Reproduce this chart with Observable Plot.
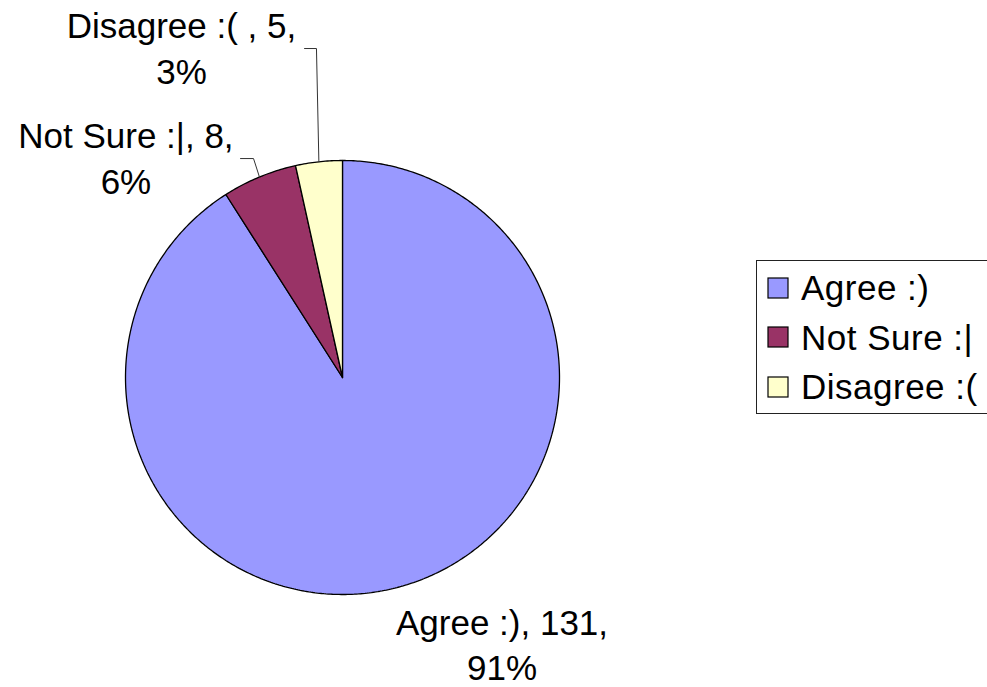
<!DOCTYPE html>
<html><head><meta charset="utf-8">
<script src="https://cdn.jsdelivr.net/npm/d3@7"></script>
<script src="https://cdn.jsdelivr.net/npm/@observablehq/plot@0.6"></script>
<style>
body{margin:0;background:#fff;}
#wrap{position:relative;width:987px;height:687px;overflow:hidden;background:#fff;}
#wrap > svg{position:absolute;left:0;top:0;}
#legend{position:absolute;left:756px;top:260px;width:260px;height:154px;border:1px solid #222;box-sizing:border-box;background:#fff;padding:2px 0 0 11px;}
#legend > div{font-family:"Liberation Sans",Arial,sans-serif;font-size:35px;letter-spacing:0.5px;margin:0;color:#000;}
#legend > div > div{line-height:49.5px;height:49.5px;padding:0;}
#legend svg{margin-right:13px;}
#legend rect{stroke:#000;stroke-width:1.2;}
</style></head><body>
<div id="wrap"><div id="legend"></div></div>
<script>
// ---- data ----
const categories = ["Agree :)", "Not Sure :|", "Disagree :("];
const counts = [131, 8, 5];
const percentLabels = ["91%", "6%", "3%"];
const colors = ["#9999FF", "#993366", "#FFFFCC"];

// ---- layout (data units: pie radius = 1) ----
const labelAt = [[0.735, -1.036], [-0.998, 1.205], [-0.742, 1.712]]; // centre x, top of text block
const leaderElbow = [null, [[-0.410, 1.009], [-0.470, 1.009]], [[-0.120, 1.516], [-0.175, 1.516]]];

const rows = categories.map((c, i) => ({category: c, count: counts[i], pct: percentLabels[i], i}));
const arcs = d3.pie().sort(null).value(d => d.count)(rows);

// slice outlines
const slicePts = [];
for (const a of arcs) {
  const key = a.data.category;
  slicePts.push({key, x: 0, y: 0});
  const n = Math.max(8, Math.ceil((a.endAngle - a.startAngle) / 0.01));
  for (let k = 0; k <= n; k++) {
    const t = a.startAngle + (a.endAngle - a.startAngle) * k / n;
    slicePts.push({key, x: Math.sin(t), y: Math.cos(t)});
  }
  slicePts.push({key, x: 0, y: 0});
}

// leader lines
const leaderPts = [];
arcs.forEach((a, i) => {
  if (!leaderElbow[i]) return;
  const m = (a.startAngle + a.endAngle) / 2;
  leaderPts.push({key: a.data.category, x: Math.sin(m), y: Math.cos(m)});
  for (const [x, y] of leaderElbow[i]) leaderPts.push({key: a.data.category, x, y});
});

const labels = rows.map((d, i) => ({
  x: labelAt[i][0], y: labelAt[i][1],
  text: `${d.category}, ${d.count},\n${d.pct}`.replace(":(,", ":( ,")
}));

const colorScale = {type: "ordinal", domain: categories, range: colors};

const chart = Plot.plot({
  width: 987, height: 687,
  marginTop: 0, marginRight: 0, marginBottom: 0, marginLeft: 0,
  x: {domain: [-1, 1], range: [125, 559], axis: null},
  y: {domain: [-1, 1], range: [594, 160], axis: null},
  color: colorScale,
  style: {background: "transparent", overflow: "visible"},
  marks: [
    Plot.line(slicePts, {x: "x", y: "y", z: "key", fill: "key", stroke: "#000", strokeWidth: 1.3, strokeLinejoin: "miter"}),
    Plot.line(leaderPts, {x: "x", y: "y", z: "key", stroke: "#333", strokeWidth: 1}),
    Plot.text(labels, {x: "x", y: "y", text: "text", textAnchor: "middle", lineAnchor: "top",
      fontSize: 35, lineHeight: 1.3, fill: "#000", fontFamily: "Liberation Sans, Arial, sans-serif",
      letterSpacing: "0.5px"})
  ]
});
document.getElementById("wrap").prepend(chart);

const legend = Plot.legend({color: colorScale, legend: "swatches", columns: 1, swatchSize: 20});
document.getElementById("legend").appendChild(legend);
</script>
</body></html>
